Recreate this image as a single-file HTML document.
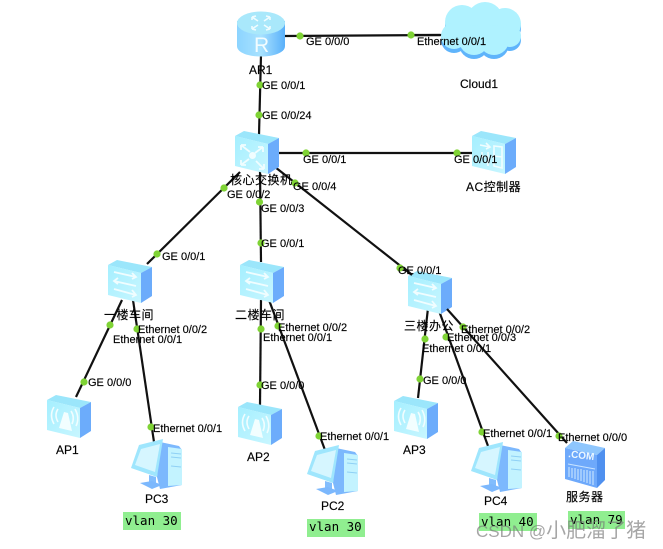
<!DOCTYPE html>
<html>
<head>
<meta charset="utf-8">
<style>
html,body{margin:0;padding:0;background:#fff;width:663px;height:549px;overflow:hidden}
svg{display:block}
text{font-family:"Liberation Sans","Noto Sans CJK SC",sans-serif;font-size:11px;fill:#000;stroke:#000;stroke-width:.15px}
.c{font-size:12px;letter-spacing:.5px}
.n{font-size:12px}
.m{font-family:"DejaVu Sans Mono",monospace;font-size:12.5px}
.l line{stroke:#111;stroke-width:2.2}
.d circle{fill:#7fd335;r:3.6px}
</style>
</head>
<body>
<svg width="663" height="549" viewBox="0 0 663 549" xmlns="http://www.w3.org/2000/svg">
<defs>
<linearGradient id="fr" x1="0" y1="0" x2="1" y2="1"><stop offset="0" stop-color="#a5efff"/><stop offset="1" stop-color="#c8f6ff"/></linearGradient>
<linearGradient id="rt" x1="0" y1="0" x2="1" y2="0"><stop offset="0" stop-color="#8cd4ff"/><stop offset=".5" stop-color="#a8e2ff"/><stop offset="1" stop-color="#5ab0fa"/></linearGradient>
<g id="cl">
<circle cx="462" cy="22" r="17"/><circle cx="485" cy="20" r="18"/><circle cx="505" cy="24" r="16"/>
<circle cx="454" cy="36" r="13"/><circle cx="510" cy="36" r="11"/><circle cx="474" cy="40" r="15"/><circle cx="494" cy="40" r="15"/>
</g>
<g id="box">
<polygon points="0,5 9,0 44,7 33,13" fill="#9be6fb"/>
<polygon points="0,5 33,13 33,43 0,35" fill="url(#fr)"/>
<polygon points="33,13 44,7 44,36 33,43" fill="#6cacfb"/>
</g>
<g id="sw">
<use href="#box"/>
<g stroke="#f0fdff" stroke-width="1.8" fill="none">
<path d="M6,12 L28,17 M24,13 L28,17 L24,19"/>
<path d="M6,21 L28,26 M10,18 L6,21 L10,24"/>
<path d="M6,29 L28,35 M24,30 L28,35 L24,37"/>
</g>
</g>
<g id="ap">
<use href="#box"/>
<polygon points="17,17 21,18 25,36 12,33" fill="#f2feff"/>
<g stroke="#f0fdff" stroke-width="1.6" fill="none">
<path d="M11,14 Q7,20 11,27"/><path d="M7,12 Q2,20 7,29"/>
<path d="M24,16 Q28,22 25,29"/><path d="M28,14 Q33,23 29,31"/>
</g>
</g>
<g id="pc">
<polygon points="27,38 30,3 49,7 52,11 52,46 30,50" fill="#7cb8fd"/>
<polygon points="38,8 52,10 52,46 38,47" fill="#c3f3ff"/>
<g stroke="#8fd0f5" stroke-width="1"><line x1="41" y1="14" x2="51" y2="15"/><line x1="41" y1="18" x2="51" y2="19"/><line x1="41" y1="27" x2="51" y2="28"/></g>
<polygon points="9,6 33,0 27,38 1,29" fill="#9fe6fd"/>
<polygon points="11,10 30,5 25,33 5,26" fill="#d6f6ff"/>
<polygon points="19,36 26,38 26,45 19,44" fill="#82bdfd"/>
<polygon points="10,44 22,42 32,46 22,50" fill="#7cb8fd"/>
</g>
<g id="srv">
<polygon points="0,7 8,0 40,7 32,14" fill="#8ec6fd"/>
<polygon points="0,7 32,14 32,47 0,38" fill="#6ea9fb"/>
<polygon points="32,14 40,7 40,39 32,47" fill="#4f90ef"/>
<g stroke="#c9e4ff" stroke-width="1.1">
<line x1="3" y1="23" x2="30" y2="28"/>
<line x1="4" y1="26" x2="4" y2="36"/><line x1="7" y1="27" x2="7" y2="37"/><line x1="10" y1="27" x2="10" y2="38"/><line x1="13" y1="28" x2="13" y2="39"/><line x1="16" y1="28" x2="16" y2="40"/><line x1="19" y1="29" x2="19" y2="41"/><line x1="22" y1="29" x2="22" y2="42"/><line x1="25" y1="30" x2="25" y2="43"/><line x1="28" y1="30" x2="28" y2="44"/>
</g>
<text x="3" y="16" style="font-size:10px;font-weight:bold;fill:#eaf7ff;stroke:none" transform="rotate(7 3 16)">.COM</text>
</g>
</defs>

<g class="l">
<line x1="285" y1="36" x2="445" y2="35"/>
<line x1="261" y1="55" x2="259" y2="135"/>
<line x1="276" y1="153" x2="474" y2="153"/>
<line x1="240" y1="172" x2="147" y2="264"/>
<line x1="260" y1="170" x2="261" y2="262"/>
<line x1="275" y1="167" x2="412" y2="275"/>
<line x1="122" y1="300" x2="76" y2="397"/>
<line x1="133" y1="300" x2="154" y2="442"/>
<line x1="261" y1="300" x2="260" y2="405"/>
<line x1="269" y1="300" x2="325" y2="450"/>
<line x1="428" y1="308" x2="418" y2="398"/>
<line x1="438" y1="308" x2="488" y2="446"/>
</g>

<!-- cloud -->
<use href="#cl" fill="#5fb4fb" y="4"/>
<use href="#cl" fill="#aff2ff"/>
<line x1="410" y1="35" x2="440" y2="35" stroke="#111" stroke-width="2.2"/>

<!-- router -->
<g>
<path d="M237,21 V46 C237,60 285,60 285,46 V21Z" fill="url(#rt)"/>
<ellipse cx="261" cy="23" rx="24" ry="11.5" fill="#a9e8fb"/>
<g stroke="#effcff" stroke-width="1.6" fill="none">
<path d="M252,17 L258,21 M252,17 L256,16 M252,17 L252,20"/><path d="M270,17 L264,21 M270,17 L266,16 M270,17 L270,20"/>
<path d="M252,29 L258,25 M252,29 L256,30 M252,29 L252,26"/><path d="M270,29 L264,25 M270,29 L266,30 M270,29 L270,26"/>
</g>
<text x="254" y="52" style="font-size:21px;fill:#f2fcff;stroke:none">R</text>
</g>

<!-- devices -->
<use href="#box" x="235" y="131"/>
<g stroke="#f0fdff" stroke-width="1.8" fill="none">
<path d="M241,145 L250,152 M241,145 V150 M241,145 H246"/>
<path d="M263,147 L255,153 M263,147 V152 M263,147 H258"/>
<path d="M241,165 L249,159 M241,165 V160 M241,165 H246"/>
<path d="M264,169 L256,161 M264,169 V164 M264,169 H259"/>
</g>
<circle cx="252.500" cy="155.500" r="3.500" fill="#f0fdff"/>

<use href="#box" x="472" y="131"/>
<g stroke="#f0fdff" stroke-width="1.6" fill="none">
<path d="M480,145 L490,147 M486,143 L490,147 L486,149"/>
<path d="M482,152 L482,158 M488,152 V166"/>
<path d="M494,146 L502,147 V168 L494,166 Z M494,156 L502,157"/>
</g>

<use href="#sw" x="108" y="260"/>
<use href="#sw" x="240" y="260"/>
<use href="#sw" x="408" y="271"/>
<use href="#ap" x="47" y="395"/>
<use href="#ap" x="238" y="402"/>
<use href="#ap" x="394" y="396"/>
<use href="#pc" x="130" y="439"/>
<use href="#pc" x="306" y="445"/>
<use href="#pc" x="470" y="442"/>
<use href="#srv" x="565" y="441"/>

<g class="l">
<line x1="447" y1="309" x2="567" y2="443"/>
<line x1="404" y1="268" x2="412" y2="275"/>
</g>

<g class="d">
<circle cx="300" cy="36"/><circle cx="411" cy="35"/><circle cx="260" cy="85"/><circle cx="259" cy="115"/>
<circle cx="306" cy="153"/><circle cx="457" cy="153"/><circle cx="224" cy="188"/><circle cx="259.500" cy="202"/>
<circle cx="295" cy="183"/><circle cx="261" cy="243"/><circle cx="157" cy="254"/><circle cx="400" cy="268"/>
<circle cx="110" cy="325"/><circle cx="84" cy="382"/><circle cx="137" cy="329"/><circle cx="151" cy="427"/>
<circle cx="261" cy="329"/><circle cx="260" cy="385"/><circle cx="278" cy="326"/><circle cx="319" cy="436"/>
<circle cx="425" cy="339"/><circle cx="420" cy="379"/><circle cx="446" cy="337"/><circle cx="482" cy="432"/>
<circle cx="463" cy="327"/><circle cx="559" cy="436"/>
</g>

<g>
<text x="306" y="45">GE 0/0/0</text>
<text x="417" y="45">Ethernet 0/0/1</text>
<text x="249" y="74" class="n">AR1</text>
<text x="460" y="88" class="n">Cloud1</text>
<text x="262" y="89">GE 0/0/1</text>
<text x="262" y="119">GE 0/0/24</text>
<text x="303" y="163">GE 0/0/1</text>
<text x="454" y="163">GE 0/0/1</text>
<text x="230" y="184" class="c">核心交换机</text>
<text x="466" y="191" class="c">AC控制器</text>
<text x="293" y="190">GE 0/0/4</text>
<text x="227" y="198">GE 0/0/2</text>
<text x="261" y="212">GE 0/0/3</text>
<text x="261" y="247">GE 0/0/1</text>
<text x="162" y="260">GE 0/0/1</text>
<text x="398" y="274">GE 0/0/1</text>
<text x="104" y="319" class="c">一楼车间</text>
<text x="235" y="319" class="c">二楼车间</text>
<text x="404" y="330" class="c">三楼办公</text>
<text x="138" y="333">Ethernet 0/0/2</text>
<text x="113" y="343">Ethernet 0/0/1</text>
<text x="278" y="331">Ethernet 0/0/2</text>
<text x="263" y="341">Ethernet 0/0/1</text>
<text x="461" y="333">Ethernet 0/0/2</text>
<text x="447" y="341">Ethernet 0/0/3</text>
<text x="422" y="352">Ethernet 0/0/1</text>
<text x="88" y="386">GE 0/0/0</text>
<text x="261" y="389">GE 0/0/0</text>
<text x="423" y="384">GE 0/0/0</text>
<text x="153" y="432">Ethernet 0/0/1</text>
<text x="320" y="440">Ethernet 0/0/1</text>
<text x="483" y="437">Ethernet 0/0/1</text>
<text x="558" y="441">Ethernet 0/0/0</text>
<text x="56" y="454" class="n">AP1</text>
<text x="145" y="503" class="n">PC3</text>
<text x="247" y="461" class="n">AP2</text>
<text x="321" y="510" class="n">PC2</text>
<text x="403" y="454" class="n">AP3</text>
<text x="484" y="505" class="n">PC4</text>
<text x="566" y="501" class="c">服务器</text>
</g>

<rect x="123" y="512" width="58" height="18" fill="#90ee90"/>
<text x="125" y="525" class="m" style="stroke:none">vlan 30</text>
<rect x="307" y="519" width="58" height="18" fill="#90ee90"/>
<text x="309" y="531" class="m" style="stroke:none">vlan 30</text>
<rect x="479" y="513" width="58" height="18" fill="#90ee90"/>
<text x="481" y="526" class="m" style="stroke:none">vlan 40</text>
<rect x="568" y="511" width="57" height="18" fill="#90ee90"/>
<text x="570" y="524" class="m" style="stroke:none">vlan 79</text>

<text x="476" y="537" style="font-size:17px;fill:#777;fill-opacity:.65;stroke:none">CSDN @<tspan style="font-size:20px">小肥溜了猪</tspan></text>
</svg>
</body>
</html>
